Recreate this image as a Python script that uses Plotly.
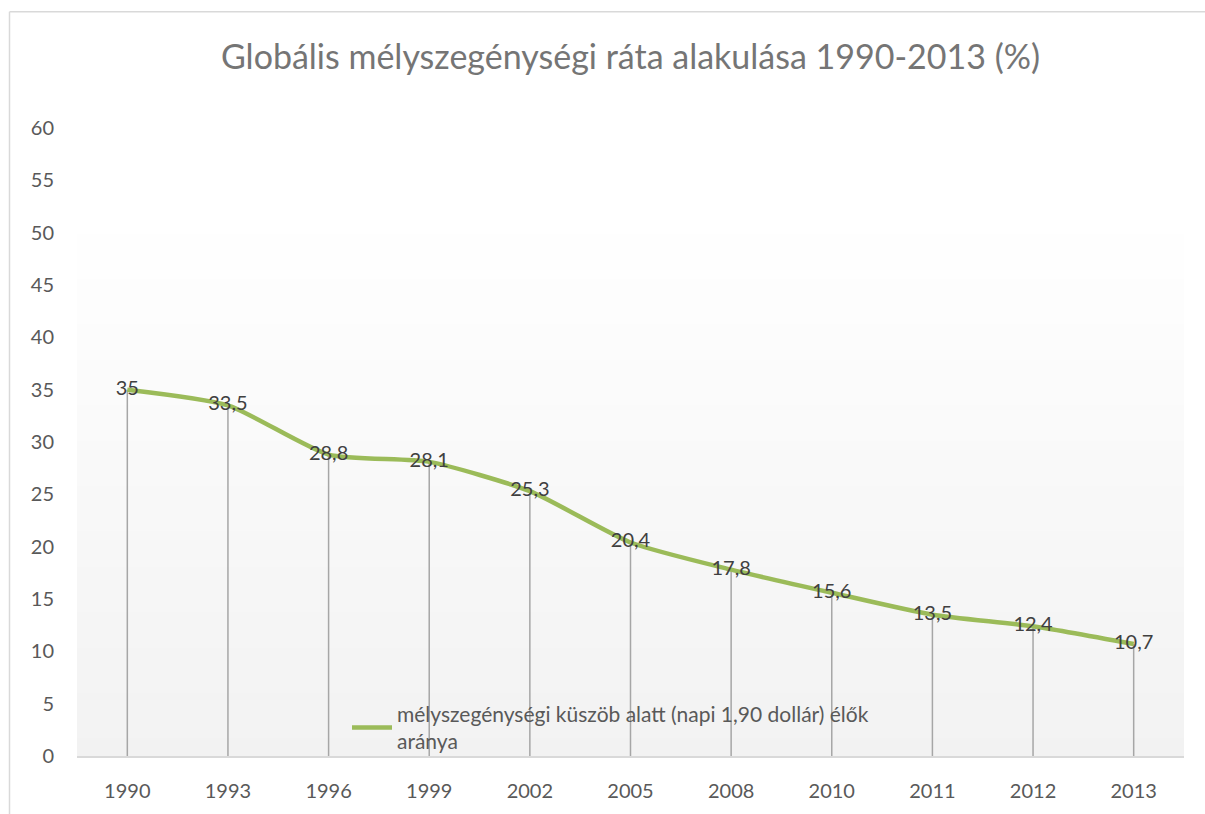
import plotly.graph_objects as go

years = ["1990", "1993", "1996", "1999", "2002", "2005", "2008", "2010", "2011", "2012", "2013"]
rates = [35, 33.5, 28.8, 28.1, 25.3, 20.4, 17.8, 15.6, 13.5, 12.4, 10.7]
labels = ["35", "33,5", "28,8", "28,1", "25,3", "20,4", "17,8", "15,6", "13,5", "12,4", "10,7"]
series_name = "mélyszegénységi küszöb alatt (napi 1,90 dollár) élők<br>aránya"
title_text = "Globális mélyszegénységi ráta alakulása 1990-2013 (%)"
y_ticks = list(range(0, 61, 5))

W, H = 1205, 814
L, T = 77, 128
R = W - 1184
B = H - 763
pw, ph = W - L - R, H - T - B

FONT = "Lato, Open Sans, sans-serif"

def px_x(px):
    return (px - L) / pw

def px_y(py):
    return (H - B - py) / ph

fig = go.Figure()

# drop lines
dx, dy = [], []
for yr, v in zip(years, rates):
    dx += [yr, yr, None]
    dy += [0, v, None]
fig.add_trace(go.Scatter(x=dx, y=dy, mode="lines", line=dict(color="#a6a6a6", width=1.5),
                         showlegend=False, hoverinfo="skip"))

fig.add_trace(go.Scatter(x=years, y=rates, mode="lines", name=series_name,
                         line=dict(color="#9bbb59", width=4.5, shape="spline", smoothing=0.6)))
fig.add_trace(go.Scatter(x=years, y=rates, mode="text", text=labels, textposition="middle center",
                         textfont=dict(size=20, color="#404040", family=FONT),
                         showlegend=False, hoverinfo="skip"))

shapes = []
# gradient background
n = 60
top_frac = 0.86
for i in range(n):
    y0 = top_frac * i / n
    y1 = top_frac * (i + 1) / n
    t = (i + 0.5) / n
    c = int(round(242 + (255 - 242) * t))
    shapes.append(dict(type="rect", xref="x domain", yref="y domain", x0=0, x1=1, y0=y0, y1=y1,
                       fillcolor=f"rgb({c},{c},{c})", line=dict(width=0), layer="below"))

# chart border (cropped)
shapes.append(dict(type="line", xref="paper", yref="paper", x0=px_x(9.5), x1=px_x(9.5),
                   y0=px_y(830), y1=px_y(10.5), line=dict(color="#d9d9d9", width=1.5)))
shapes.append(dict(type="line", xref="paper", yref="paper", x0=px_x(9.5), x1=px_x(1220),
                   y0=px_y(10.5), y1=px_y(10.5), line=dict(color="#d9d9d9", width=1.5)))

fig.update_layout(
    width=W, height=H,
    margin=dict(l=L, r=R, t=T, b=B),
    paper_bgcolor="white", plot_bgcolor="white",
    title=dict(text=title_text, x=0.5, xref="paper", xanchor="center", y=1 - 57 / H,
               yanchor="middle", font=dict(size=34, color="#757575", family=FONT)),
    font=dict(family=FONT, color="#595959"),
    shapes=shapes,
    showlegend=True,
    legend=dict(x=px_x(347), y=px_y(700), xanchor="left", yanchor="top", bgcolor="rgba(0,0,0,0)",
                font=dict(size=21, color="#595959", family=FONT), itemwidth=40),
    xaxis=dict(type="category", showgrid=False, showline=True, linecolor="#d9d9d9", linewidth=1.5,
               ticks="", tickfont=dict(size=20, color="#595959"), ticklabelstandoff=16,
               range=[-0.5, len(years) - 0.5], fixedrange=True),
    yaxis=dict(range=[0, 60], tickvals=y_ticks, showgrid=False, zeroline=False, showline=False,
               ticks="", tickfont=dict(size=20, color="#595959"), ticklabelstandoff=22),
)

fig.write_html("out.html", config={"displayModeBar": False},
               post_script="document.body.style.margin='0';document.body.style.overflow='hidden';")
